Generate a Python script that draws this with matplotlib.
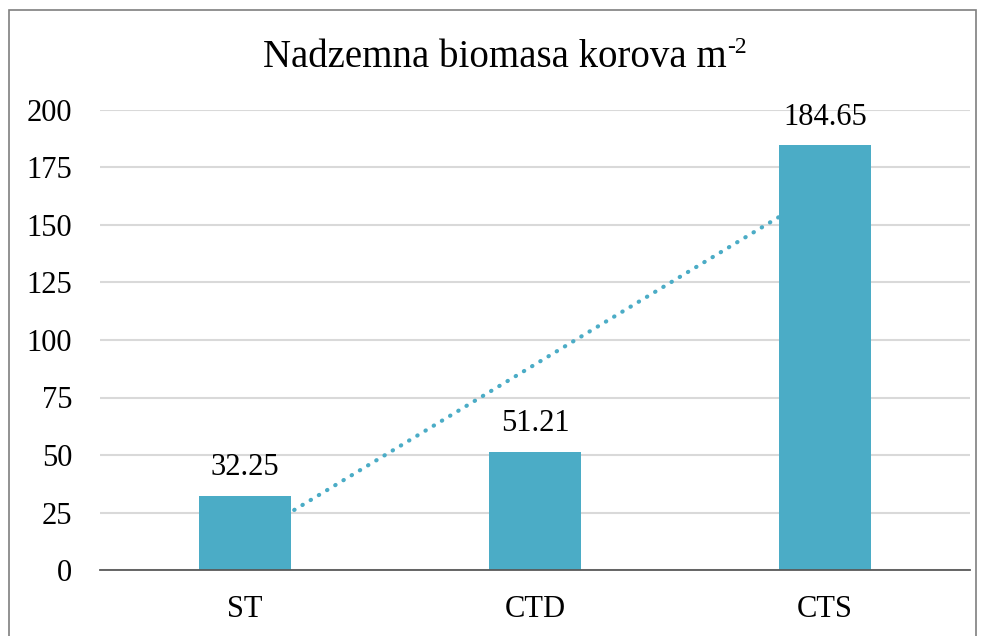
import numpy as np
import matplotlib
matplotlib.use("Agg")
import matplotlib.pyplot as plt
from matplotlib.patches import Rectangle
from matplotlib.transforms import offset_copy

categories = ["ST", "CTD", "CTS"]
values = [32.25, 51.21, 184.65]
yticks = [0, 25, 50, 75, 100, 125, 150, 175, 200]
title_main = "Nadzemna biomasa korova m"
title_sup = "-2"

bar_color = "#4BACC6"
plt.rcParams['font.family'] = ['Liberation Serif', 'DejaVu Serif']

fig = plt.figure(figsize=(9.84, 6.36), dpi=100)
ax = fig.add_axes([100/984, 66/636, 870/984, 460/636])

x = np.arange(1, len(categories) + 1)
ax.bar(x, values, width=0.314, color=bar_color, zorder=3)

# linear trendline
coef = np.polyfit(x, values, 1)
tx = np.array([x[0], x[-1]], dtype=float)
ax.plot(tx, np.polyval(coef, tx), linestyle=(0, (0.1, 2.2)), color=bar_color,
        linewidth=3, dash_capstyle='round', zorder=2)

for xi, v in zip(x, values):
    ax.text(xi, v + 6, f"{v:.2f}", ha='center', va='bottom', fontsize=22, color='black', zorder=4)

ax.set_xlim(0.5, 3.5)
ax.set_ylim(0, 200)
ax.set_yticks(yticks)
ax.set_yticklabels([str(t) for t in yticks], fontsize=22)
ax.set_xticks(x)
ax.set_xticklabels(categories, fontsize=22)
ax.tick_params(axis='both', length=0)
ax.tick_params(axis='y', pad=20)
ax.tick_params(axis='x', pad=18)
ax.yaxis.grid(True, color='#D9D9D9', linewidth=1.5, zorder=0)
ax.set_axisbelow(True)
for s in ['left', 'right', 'top']:
    ax.spines[s].set_visible(False)
ax.spines['bottom'].set_color('#595959')
ax.spines['bottom'].set_linewidth(1.3)
ax.spines['bottom'].set_zorder(5)

# title with superscript
fig.canvas.draw()
r = fig.canvas.get_renderer()
t_main = fig.text(0, 0, title_main, fontsize=28)
t_sup = fig.text(0, 0, title_sup, fontsize=17)
w_main = t_main.get_window_extent(r).width
w_sup = t_sup.get_window_extent(r).width
total = w_main + w_sup
cx = 505
x0 = cx - total / 2
base_y = 636 - 67
t_main.set_position((x0 / 984, base_y / 636))
t_main.set_va('baseline')
t_sup.set_position(((x0 + w_main) / 984, (base_y + 14) / 636))
t_sup.set_va('baseline')

# outer chart border
fig.patches.append(Rectangle((9/984, -0.05), 967/984, 1.05 - 10/636, transform=fig.transFigure,
                             fill=False, edgecolor='#7F7F7F', linewidth=1.2))

fig.savefig("out.png", dpi=100)
